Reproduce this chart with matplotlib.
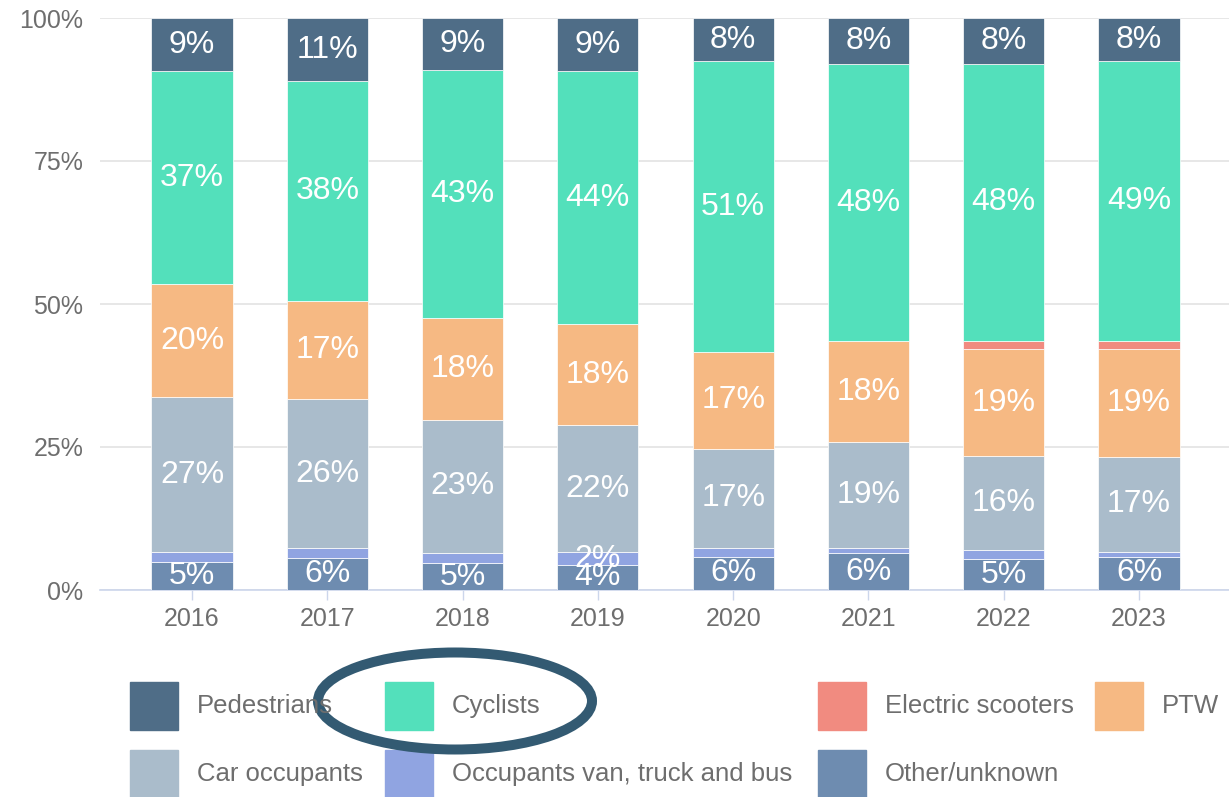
import matplotlib
matplotlib.use("Agg")
import matplotlib.pyplot as plt
import matplotlib.patches as mpatches
import numpy as np

plt.rcParams['font.family'] = ['Liberation Sans', 'DejaVu Sans']

# dados (percentagens por ano)
anos = ['2016', '2017', '2018', '2019', '2020', '2021', '2022', '2023']
other_unknown = [4.9, 5.6, 4.7, 4.4, 5.8, 6.4, 5.4, 5.8]
occupants_van = [1.7, 1.7, 1.8, 2.2, 1.5, 0.9, 1.6, 0.8]
car_occupants = [27.1, 26.1, 23.2, 22.2, 17.4, 18.6, 16.4, 16.7]
ptw = [19.8, 17.1, 17.9, 17.7, 16.9, 17.6, 18.7, 18.8]
electric_scooters = [0, 0, 0, 0, 0, 0, 1.5, 1.5]
cyclists = [37.2, 38.4, 43.3, 44.2, 50.8, 48.4, 48.4, 48.8]
pedestrians = [9.3, 11.1, 9.1, 9.3, 7.6, 8.1, 8.0, 7.6]

# ordem de empilhamento (de baixo para cima)
series = [
    ('Other/unknown', other_unknown, '#6e8cb0'),
    ('Occupants van, truck and bus', occupants_van, '#90a4e1'),
    ('Car occupants', car_occupants, '#aabccb'),
    ('PTW', ptw, '#f6b983'),
    ('Electric scooters', electric_scooters, '#f18b80'),
    ('Cyclists', cyclists, '#53e0bb'),
    ('Pedestrians', pedestrians, '#4f6d87'),
]

fig = plt.figure(figsize=(12.29, 7.97), dpi=100)
ax = fig.add_axes([100 / 1229, 207 / 797, 1129 / 1229, 572 / 797])

x = np.arange(len(anos))
base = np.zeros(len(anos))
for nome, valores, cor in series:
    v = np.array(valores, dtype=float)
    ax.bar(x, v, bottom=base, width=0.6, color=cor, edgecolor='white', linewidth=0.5, zorder=3)
    for xi, b, val in zip(x, base, v):
        if val >= 2:
            ax.text(xi, b + val / 2, f"{round(val)}%", ha='center', va='center',
                    color='white', fontsize=23, zorder=4)
    base += v

ax.set_xlim(-0.68, 7.665)
ax.set_ylim(0, 100)
ax.set_yticks([0, 25, 50, 75, 100])
ax.set_yticklabels(['0%', '25%', '50%', '75%', '100%'])
ax.set_xticks(x)
ax.set_xticklabels(anos)
ax.grid(axis='y', color='#e3e3e3', linewidth=1.2, zorder=0)
for lado in ['top', 'right', 'left']:
    ax.spines[lado].set_visible(False)
ax.spines['bottom'].set_color('#ccd6eb')
ax.spines['bottom'].set_linewidth(1.2)
ax.tick_params(axis='y', length=0, pad=12, labelsize=18, labelcolor='#6e6e6e')
ax.tick_params(axis='x', length=7, width=1, color='#ccd6eb', pad=5, labelsize=18, labelcolor='#6e6e6e')

# legenda manual
col_x = [130, 385, 818, 1095]
row_y = [706, 774]
legenda = [
    ('Pedestrians', '#4f6d87', 0, 0),
    ('Cyclists', '#53e0bb', 1, 0),
    ('Electric scooters', '#f18b80', 2, 0),
    ('PTW', '#f6b983', 3, 0),
    ('Car occupants', '#aabccb', 0, 1),
    ('Occupants van, truck and bus', '#90a4e1', 1, 1),
    ('Other/unknown', '#6e8cb0', 2, 1),
]
W, H = 1229, 797
for nome, cor, c, r in legenda:
    cx = col_x[c]
    cy = row_y[r]
    fig.add_artist(mpatches.Rectangle((cx / W, (H - cy - 24) / H), 48 / W, 48 / H,
                                      transform=fig.transFigure, color=cor))
    fig.text((cx + 67) / W, (H - cy) / H, nome, ha='left', va='center',
             fontsize=18.5, color='#6e6e6e')

# destaque em volta de Cyclists
fig.add_artist(mpatches.Ellipse((455 / W, (H - 701) / H), 274 / W, 97 / H,
                                transform=fig.transFigure, fill=False,
                                edgecolor='#335a72', linewidth=7.2))

fig.savefig('out.png', dpi=100)
